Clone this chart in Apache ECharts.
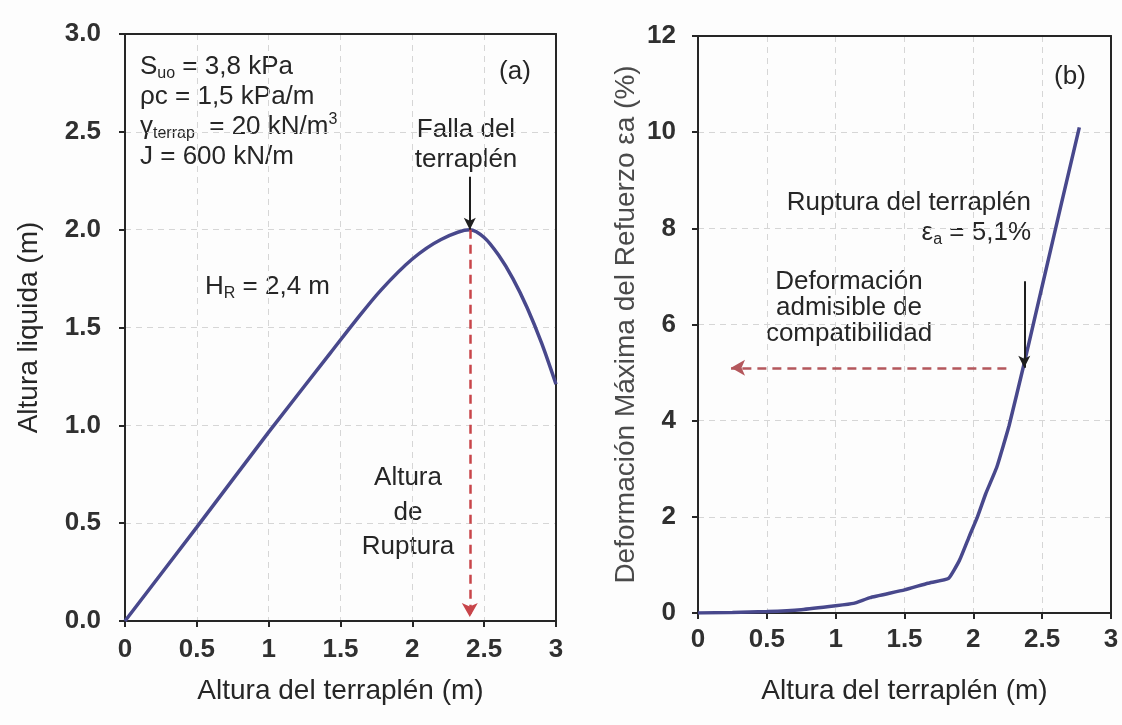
<!DOCTYPE html>
<html>
<head>
<meta charset="utf-8">
<script src="https://cdn.jsdelivr.net/npm/echarts@6/dist/echarts.min.js"></script>
<style>
  html, body { margin: 0; padding: 0; background: #fdfdfd; }
  #chart { width: 1122px; height: 725px; }
</style>
</head>
<body>
<div id="chart"></div>
<script>
// (a) Altura líquida vs altura del terraplén
const embankHeightA = [0, 0.5, 1.0, 1.43, 1.6, 1.78, 2.0, 2.2, 2.4, 2.5, 2.6, 2.7, 2.8, 2.9, 3.0];
const liquidHeight  = [0, 0.48, 0.965, 1.37, 1.53, 1.69, 1.85, 1.95, 2.0, 1.96, 1.87, 1.75, 1.6, 1.42, 1.21];

// (b) Deformación máxima del refuerzo vs altura del terraplén
const embankHeightB = [0, 0.25, 0.5, 0.75, 1.0, 1.13, 1.25, 1.5, 1.67, 1.82, 1.9, 1.97, 2.03, 2.09, 2.17, 2.26, 2.37, 2.44, 2.51, 2.64, 2.77];
const strainPct     = [0, 0.01, 0.03, 0.07, 0.15, 0.2, 0.32, 0.48, 0.62, 0.72, 1.1, 1.59, 2.0, 2.48, 3.03, 3.9, 5.2, 6.06, 6.92, 8.52, 10.1];

// Axis tick labels
const xTickLabels  = ['0', '0.5', '1', '1.5', '2', '2.5', '3'];
const yTickLabelsA = ['0.0', '0.5', '1.0', '1.5', '2.0', '2.5', '3.0'];
const yTickLabelsB = ['0', '2', '4', '6', '8', '10', '12'];

// Annotated values
const ruptureHeight = 2.4;   // H_R (m)
const peakLiquid = 2.0;      // altura líquida en la falla (m)
const ruptureStrain = 5.1;   // ε_a en la ruptura (%)
const strainArrowX = 2.37;   // altura donde se marca la ruptura en (b)

const FONT = '"Liberation Sans", Arial, Helvetica, sans-serif';
const INK = '#262626';
const CURVE = '#48488c';

const chart = echarts.init(document.getElementById('chart'), null, { renderer: 'canvas' });

function axisCommon(labels, step, margin) {
  return {
    axisLine: { show: true, onZero: false, lineStyle: { color: INK, width: 2 } },
    axisTick: { show: true, inside: false, length: 6, lineStyle: { color: INK, width: 2 } },
    axisLabel: {
      color: '#303030', fontSize: 26, fontWeight: 'bold', fontFamily: FONT, margin,
      formatter: v => labels[Math.round(v / step)] ?? ''
    },
    splitLine: { show: true, lineStyle: { color: '#d6d6d6', width: 1, type: [6, 5] } }
  };
}

// plain frame line on the opposite side of each plot
function frameAxis(gridIndex, position, min, max) {
  return {
    type: 'value', gridIndex, position, min, max,
    axisLine: { show: true, onZero: false, lineStyle: { color: INK, width: 2 } },
    axisTick: { show: false }, axisLabel: { show: false }, splitLine: { show: false }
  };
}

function txt(x, y, text, opts = {}) {
  return {
    type: 'text', x, y, silent: true,
    style: Object.assign({
      text, fill: INK, fontSize: 26, fontFamily: FONT,
      align: 'left', verticalAlign: 'middle',
      textAlign: 'left', textVerticalAlign: 'middle'
    }, opts)
  };
}
const rich = {
  n: { fontSize: 26, fontFamily: FONT, fill: INK, color: INK, lineHeight: 30 },
  s: { fontSize: 16, fontFamily: FONT, fill: INK, color: INK, lineHeight: 16, verticalAlign: 'bottom' },
  p: { fontSize: 16, fontFamily: FONT, fill: INK, color: INK, lineHeight: 16, verticalAlign: 'top' }
};

const nameStyle = { fontSize: 28, fontFamily: FONT, color: INK };

const option = {
  backgroundColor: '#fdfdfd',
  animation: false,
  grid: [
    { left: 125, top: 34, width: 431, height: 587 },
    { left: 698, top: 36, width: 413, height: 577 }
  ],
  xAxis: [
    Object.assign(axisCommon(xTickLabels, 0.5, 16), {
      type: 'value', gridIndex: 0, min: 0, max: 3, interval: 0.5, position: 'bottom',
      name: 'Altura del terraplén (m)', nameLocation: 'middle', nameGap: 56, nameTextStyle: nameStyle
    }),
    Object.assign(axisCommon(xTickLabels, 0.5, 14), {
      type: 'value', gridIndex: 1, min: 0, max: 3, interval: 0.5, position: 'bottom',
      name: 'Altura del terraplén (m)', nameLocation: 'middle', nameGap: 64, nameTextStyle: nameStyle
    }),
    frameAxis(0, 'top', 0, 3),
    frameAxis(1, 'top', 0, 3)
  ],
  yAxis: [
    Object.assign(axisCommon(yTickLabelsA, 0.5, 24), {
      type: 'value', gridIndex: 0, min: 0, max: 3, interval: 0.5, position: 'left',
      name: 'Altura liquida (m)', nameLocation: 'middle', nameGap: 82, nameTextStyle: nameStyle
    }),
    Object.assign(axisCommon(yTickLabelsB, 2, 22), {
      type: 'value', gridIndex: 1, min: 0, max: 12, interval: 2, position: 'left',
      name: 'Deformación Máxima del Refuerzo εa (%)', nameLocation: 'middle', nameGap: 58,
      nameTextStyle: Object.assign({}, nameStyle, { color: '#4a4a4a' })
    }),
    frameAxis(0, 'right', 0, 3),
    frameAxis(1, 'right', 0, 12)
  ],
  series: [
    {
      type: 'line', xAxisIndex: 0, yAxisIndex: 0, smooth: 0.3, symbol: 'none',
      lineStyle: { color: CURVE, width: 3.5 },
      data: embankHeightA.map((x, i) => [x, liquidHeight[i]]),
      markLine: {
        silent: true, animation: false, label: { show: false },
        data: [
          [
            { coord: [ruptureHeight, peakLiquid + 0.27], symbol: 'none', lineStyle: { color: '#1e1e1e', width: 2, type: 'solid' } },
            { coord: [ruptureHeight, peakLiquid], symbol: 'arrow', symbolSize: [9, 12] }
          ],
          [
            { coord: [ruptureHeight, peakLiquid], symbol: 'none', lineStyle: { color: '#c8454a', width: 2.5, type: [9, 6] } },
            { coord: [ruptureHeight, 0.02], symbol: 'arrow', symbolSize: [12, 14] }
          ]
        ]
      }
    },
    {
      type: 'line', xAxisIndex: 1, yAxisIndex: 1, smooth: 0.12, symbol: 'none',
      lineStyle: { color: CURVE, width: 3.5 },
      data: embankHeightB.map((x, i) => [x, strainPct[i]]),
      markLine: {
        silent: true, animation: false, label: { show: false },
        data: [
          [
            { coord: [strainArrowX, ruptureStrain + 1.8], symbol: 'none', lineStyle: { color: '#1e1e1e', width: 2, type: 'solid' } },
            { coord: [strainArrowX, ruptureStrain], symbol: 'arrow', symbolSize: [9, 12] }
          ],
          [
            { coord: [2.24, ruptureStrain], symbol: 'none', lineStyle: { color: '#b4575c', width: 2.5, type: [9, 6] } },
            { coord: [0.24, ruptureStrain], symbol: 'arrow', symbolSize: [12, 14] }
          ]
        ]
      }
    }
  ],
  graphic: [
    // (a) parámetros
    txt(140, 67, '{n|S}{s|uo}{n| = 3,8 kPa}', { rich }),
    txt(140, 97, 'ρc = 1,5 kPa/m'),
    txt(140, 127, '{n|γ}{s|terrap}{n|  = 20 kN/m}{p|3}', { rich }),
    txt(140, 157, 'J = 600 kN/m'),
    txt(515, 72, '(a)', { align: 'center', textAlign: 'center' }),
    txt(466, 130, 'Falla del', { align: 'center', textAlign: 'center' }),
    txt(466, 160, 'terraplén', { align: 'center', textAlign: 'center' }),
    txt(205, 287, '{n|H}{s|R}{n| = 2,4 m}', { rich }),
    txt(408, 478, 'Altura', { align: 'center', textAlign: 'center' }),
    txt(408, 513, 'de', { align: 'center', textAlign: 'center' }),
    txt(408, 547, 'Ruptura', { align: 'center', textAlign: 'center' }),
    // (b)
    txt(1070, 77, '(b)', { align: 'center', textAlign: 'center' }),
    txt(1031, 203, 'Ruptura del terraplén', { align: 'right', textAlign: 'right' }),
    txt(1031, 233, '{n|ε}{s|a}{n| = 5,1%}', { rich, align: 'right', textAlign: 'right' }),
    txt(849, 282, 'Deformación', { align: 'center', textAlign: 'center' }),
    txt(849, 308, 'admisible de', { align: 'center', textAlign: 'center' }),
    txt(849, 334, 'compatibilidad', { align: 'center', textAlign: 'center' })
  ]
};

chart.setOption(option);
</script>
</body>
</html>
